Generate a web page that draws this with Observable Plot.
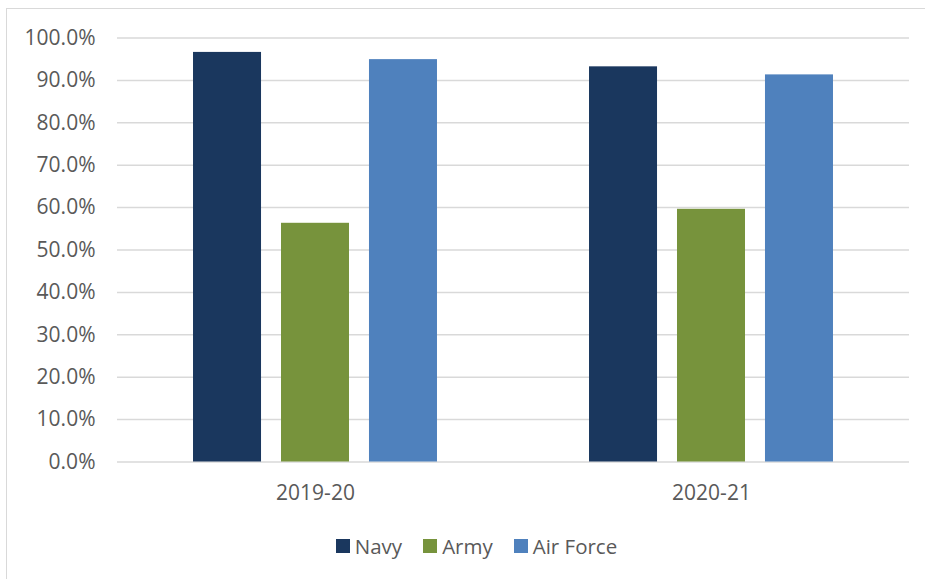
<!DOCTYPE html>
<html><head><meta charset="utf-8">
<script src="https://cdn.jsdelivr.net/npm/d3@7"></script>
<script src="https://cdn.jsdelivr.net/npm/@observablehq/plot@0.6"></script>
<style>
html,body{margin:0;padding:0;background:#fff;overflow:hidden;width:925px;height:579px;font-family:"Open Sans",sans-serif;}
#frame{position:absolute;left:6px;top:7.5px;width:940px;height:620px;border:1.5px solid #d9d9d9;box-sizing:border-box;}
#chart{position:absolute;left:0;top:0;}
#legend{position:absolute;top:533px;left:0;width:953px;display:flex;justify-content:center;gap:21px;font-size:20.5px;color:#595959;line-height:26px;}
#legend .item{display:flex;align-items:center;gap:5px;}
#legend .sw{width:14px;height:14px;display:inline-block;}
</style></head><body>
<div id="frame"></div>
<div id="chart"></div>
<div id="legend"></div>
<script>
const years = ["2019-20", "2020-21"];
const services = ["Navy", "Army", "Air Force"];
const colors = ["#1a375e", "#77933c", "#4f81bd"];
const navy = [96.6, 93.2];
const army = [56.3, 59.6];
const airForce = [94.9, 91.3];
const yTicks = [0, 10, 20, 30, 40, 50, 60, 70, 80, 90, 100];

const seriesValues = [navy, army, airForce];
const data = [];
years.forEach((yr, i) => services.forEach((s, j) => data.push({year: yr, service: s, value: seriesValues[j][i]})));

const chart = Plot.plot({
  width: 925,
  height: 520,
  marginLeft: 117,
  marginRight: 16,
  marginTop: 37.5,
  marginBottom: 58.5,
  style: {fontSize: "21px", fontFamily: "'Open Sans', sans-serif", color: "#595959", background: "transparent"},
  fx: {domain: years, padding: 0, round: false, axis: "bottom", tickSize: 0, tickPadding: 23, label: null},
  x: {domain: services, axis: null, round: false, paddingInner: 0.227, paddingOuter: 0.864},
  y: {domain: [0, 100], ticks: yTicks, tickFormat: d => d.toFixed(1) + "%", tickSize: 0, tickPadding: 22, label: null},
  color: {domain: services, range: colors},
  marks: [
    Plot.ruleY(yTicks, {stroke: "#d9d9d9", strokeWidth: 1.5}),
    Plot.barY(data, {fx: "year", x: "service", y: "value", fill: "service"})
  ]
});
document.getElementById("chart").appendChild(chart);

const color = chart.scale("color");
const legend = document.getElementById("legend");
color.domain.forEach((s, i) => {
  const it = document.createElement("div");
  it.className = "item";
  const sw = document.createElement("span");
  sw.className = "sw";
  sw.style.background = color.range[i];
  const t = document.createElement("span");
  t.textContent = s;
  it.appendChild(sw); it.appendChild(t);
  legend.appendChild(it);
});
</script>
</body></html>
